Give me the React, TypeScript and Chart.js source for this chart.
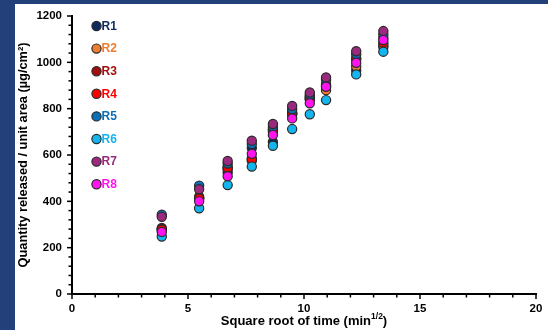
import React, { useEffect, useRef } from "react";
import { Chart, registerables } from "chart.js";

Chart.register(...registerables);

const sqrtTime = [3.87, 5.48, 6.71, 7.75, 8.66, 9.49, 10.25, 10.95, 12.25, 13.42];

const seriesNames = ["R1", "R2", "R3", "R4", "R5", "R6", "R7", "R8"];
const seriesColors = ["#0D2B5E", "#ED7D31", "#A50D0D", "#FF0000", "#0B6FB8", "#14B4EE", "#9B2A7E", "#FF14F0"];

const r1 = [285, 415, 525, 630, 656, 775, 840, 905, 965, 1066];
const r2 = [275, 410, 538, 575, 700, 776, 842, 880, 982, 1075];
const r3 = [280, 420, 548, 585, 712, 784, 852, 900, 1018, 1105];
const r4 = [278, 412, 545, 582, 708, 780, 848, 895, 1012, 1085];
const r5 = [342, 468, 563, 648, 722, 798, 860, 925, 1035, 1120];
const r6 = [248, 370, 470, 550, 640, 712, 776, 837, 948, 1046];
const r7 = [333, 452, 574, 662, 734, 812, 870, 935, 1048, 1135];
const r8 = [268, 400, 508, 605, 686, 758, 823, 895, 998, 1096];
const seriesValues = [r1, r2, r3, r4, r5, r6, r7, r8];

const xMajorTicks = [0, 5, 10, 15, 20];
const yMajorTicks = [0, 200, 400, 600, 800, 1000, 1200];
const xMinorStep = 1;
const yMinorStep = 40;

const yTitle = "Quantity released / unit area (µg/cm²)";
const xTitleMain = "Square root of time (min";
const xTitleSup = "1/2";
const xTitleEnd = ")";

const FONT = "'Liberation Sans', Arial, sans-serif";

const decorPlugin = {
  id: "decor",
  afterDatasetsDraw(chart: any) {
    const ctx = chart.ctx;
    const xs = chart.scales.x;
    const ys = chart.scales.y;
    const area = chart.chartArea;
    ctx.save();
    ctx.strokeStyle = "#000";
    ctx.lineWidth = 1.5;
    for (let v = xs.min; v <= xs.max + 1e-9; v += xMinorStep) {
      const px = xs.getPixelForValue(v);
      const major = xMajorTicks.includes(Math.round(v));
      ctx.beginPath();
      ctx.moveTo(px, area.bottom);
      ctx.lineTo(px, area.bottom + (major ? 5 : 3.5));
      ctx.stroke();
    }
    for (let v = ys.min; v <= ys.max + 1e-9; v += yMinorStep) {
      const py = ys.getPixelForValue(v);
      const major = yMajorTicks.includes(Math.round(v));
      ctx.beginPath();
      ctx.moveTo(area.left, py);
      ctx.lineTo(area.left - (major ? 5 : 3.5), py);
      ctx.stroke();
    }
    const lx = area.left + 24.5;
    seriesNames.forEach((name, i) => {
      const ly = area.top + 10 + i * 22.6;
      ctx.beginPath();
      ctx.arc(lx, ly, 4.6, 0, Math.PI * 2);
      ctx.fillStyle = seriesColors[i];
      ctx.fill();
      ctx.lineWidth = 1.2;
      ctx.strokeStyle = "#2a2a2a";
      ctx.stroke();
      ctx.font = `bold 12px ${FONT}`;
      ctx.fillStyle = seriesColors[i];
      ctx.textAlign = "left";
      ctx.textBaseline = "middle";
      ctx.fillText(name, lx + 5, ly + 0.5);
    });
    const mainFont = `bold 13px ${FONT}`;
    const supFont = `bold 8.5px ${FONT}`;
    ctx.font = mainFont;
    const w1 = ctx.measureText(xTitleMain).width;
    const w3 = ctx.measureText(xTitleEnd).width;
    ctx.font = supFont;
    const w2 = ctx.measureText(xTitleSup).width;
    const total = w1 + w2 + w3;
    const cx = (area.left + area.right) / 2;
    let tx = cx - total / 2;
    const ty = area.bottom + 27;
    ctx.fillStyle = "#000";
    ctx.textAlign = "left";
    ctx.textBaseline = "middle";
    ctx.font = mainFont;
    ctx.fillText(xTitleMain, tx, ty);
    tx += w1;
    ctx.font = supFont;
    ctx.fillText(xTitleSup, tx, ty - 4);
    tx += w2;
    ctx.font = mainFont;
    ctx.fillText(xTitleEnd, tx, ty);
    ctx.restore();
  },
};

export default function App() {
  const ref = useRef<HTMLCanvasElement>(null);
  useEffect(() => {
    if (!ref.current) return;
    const datasets = seriesNames.map((name, i) => ({
      label: name,
      data: sqrtTime.map((x, j) => ({ x, y: seriesValues[i][j] })),
      backgroundColor: seriesColors[i],
      borderColor: "#2a2a2a",
      borderWidth: 1.2,
      pointRadius: 4.6,
      pointHoverRadius: 4.6,
      showLine: false,
      order: 8 - i,
    }));
    const chart = new Chart(ref.current, {
      type: "scatter",
      data: { datasets },
      options: {
        animation: false,
        responsive: false,
        events: [],
        layout: { padding: { top: 12, right: 12, left: 0, bottom: 0 } },
        plugins: { legend: { display: false }, tooltip: { enabled: false } },
        scales: {
          x: {
            type: "linear",
            min: 0,
            max: 20,
            afterBuildTicks: (s: any) => {
              s.ticks = xMajorTicks.map((v) => ({ value: v }));
            },
            afterFit: (s: any) => {
              s.height = 36;
              s.paddingLeft = 0;
              s.paddingRight = 0;
            },
            grid: { display: false, drawTicks: false },
            border: { display: true, color: "#000", width: 2 },
            ticks: {
              color: "#000",
              font: { family: FONT, size: 11.5, weight: "bold" },
              padding: 8,
              maxRotation: 0,
              callback: (v: any) => String(v),
            },
          },
          y: {
            type: "linear",
            min: 0,
            max: 1200,
            afterBuildTicks: (s: any) => {
              s.ticks = yMajorTicks.map((v) => ({ value: v }));
            },
            afterFit: (s: any) => {
              s.width = 57;
              s.paddingTop = 0;
              s.paddingBottom = 0;
            },
            grid: { display: false, drawTicks: false },
            border: { display: true, color: "#000", width: 2 },
            ticks: {
              color: "#000",
              font: { family: FONT, size: 11.5, weight: "bold" },
              padding: 10,
              callback: (v: any) => String(v),
            },
            title: {
              display: true,
              text: yTitle,
              color: "#000",
              font: { family: FONT, size: 12.8, weight: "bold" },
              padding: { top: 1, bottom: 0 },
            },
          },
        },
      },
      plugins: [decorPlugin],
    } as any);
    return () => chart.destroy();
  }, []);
  return (
    <div style={{ position: "fixed", left: 0, top: 0, width: 548, height: 330, background: "#24407A" }}>
      <div style={{ position: "absolute", left: 15, top: 4, width: 533, height: 326, background: "#fff" }}>
        <canvas ref={ref} width={533} height={326} style={{ display: "block" }} />
      </div>
    </div>
  );
}
